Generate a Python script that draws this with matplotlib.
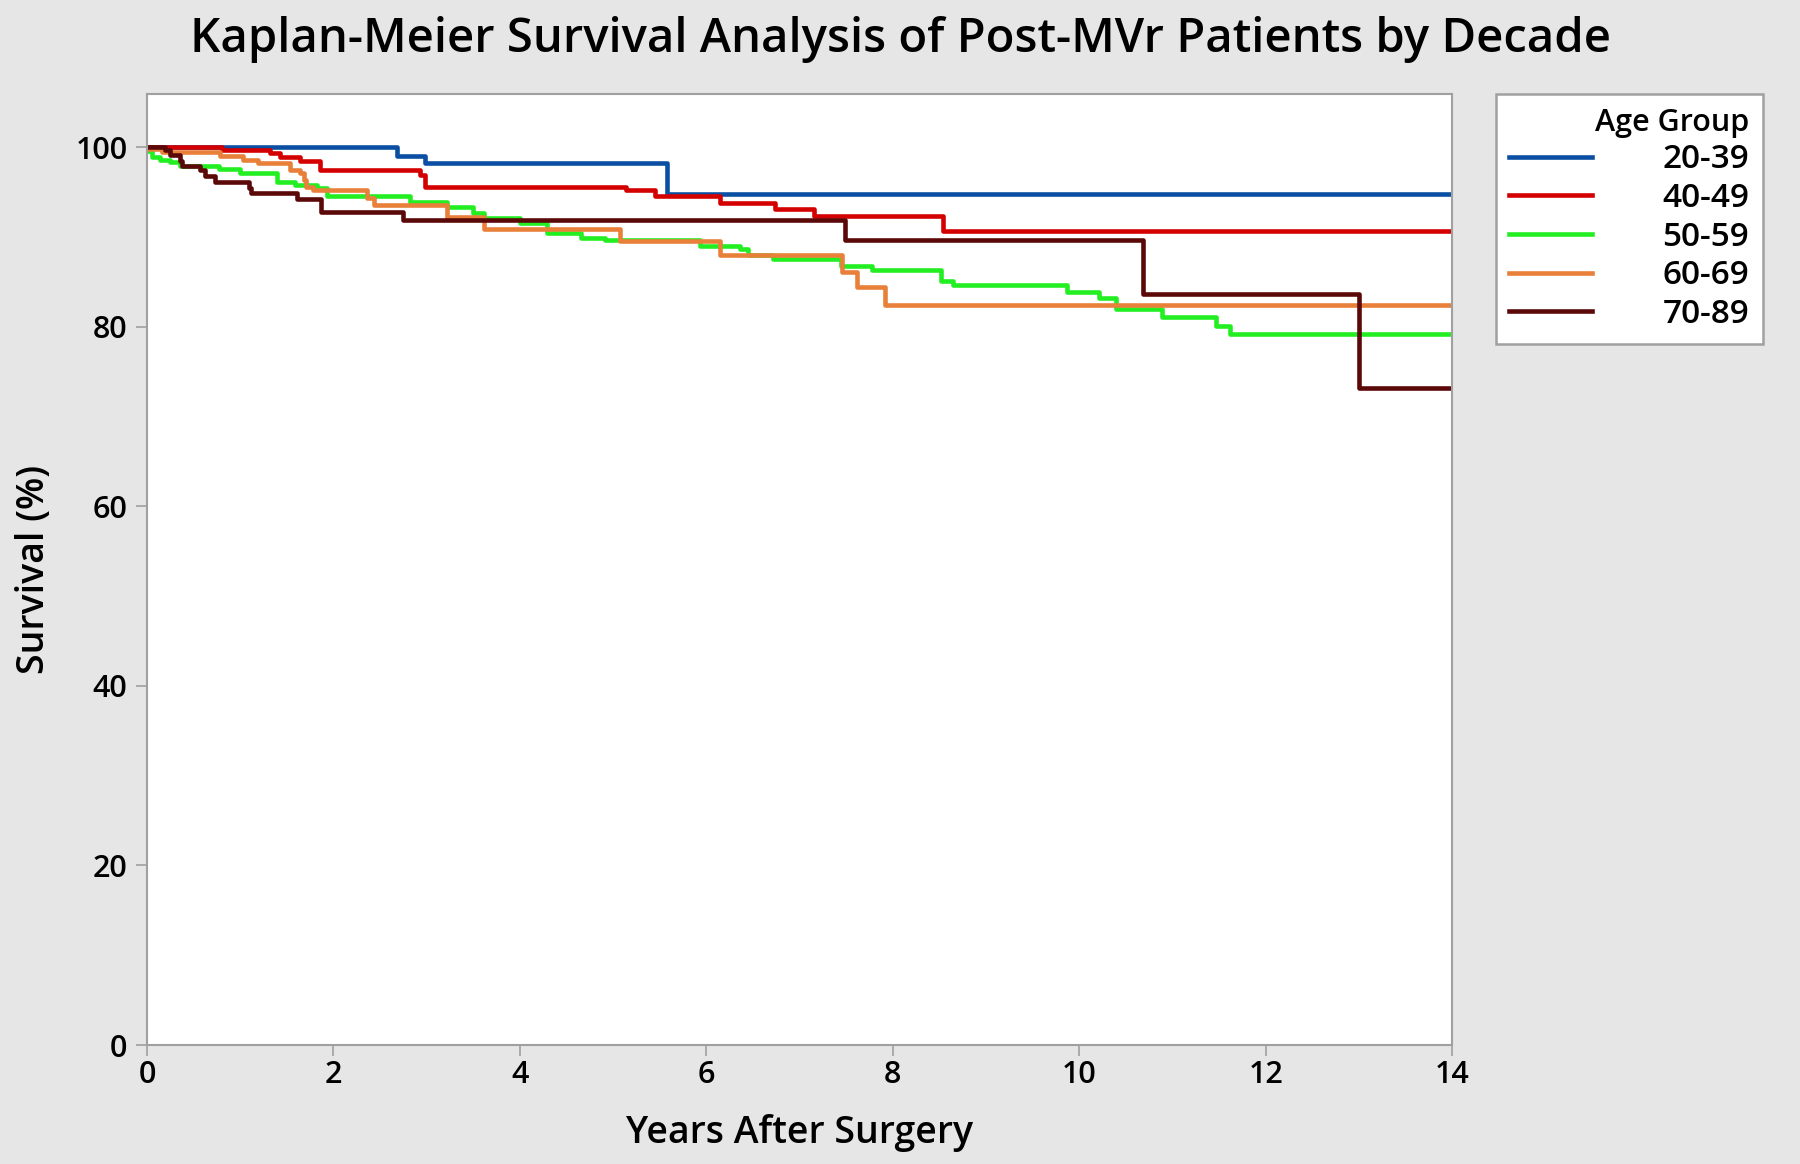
import numpy as np
import matplotlib
matplotlib.use('Agg')
import matplotlib.pyplot as plt

plt.rcParams['font.family'] = ['Open Sans', 'DejaVu Sans']
plt.rcParams['font.weight'] = 'semibold'

# ---------------data
groups = ['20-39', '40-49', '50-59', '60-69', '70-89']
colors = ['#0A4FA3', '#D40000', '#22EE22', '#E8803A', '#5A0808']

t_20_39 = [0, 2.68, 2.98, 5.58, 14]
s_20_39 = [100, 99.0, 98.2, 94.8, 94.8]

t_40_49 = [0, 0.80, 1.32, 1.43, 1.64, 1.86, 2.93, 2.98, 5.14, 5.45, 6.15, 6.74, 7.15, 8.54, 14]
s_40_49 = [100, 99.7, 99.3, 98.9, 98.4, 97.4, 96.9, 95.6, 95.2, 94.5, 93.8, 93.1, 92.3, 90.7, 90.7]

t_50_59 = [0, 0.05, 0.14, 0.25, 0.35, 0.77, 1.00, 1.39, 1.59, 1.82, 1.93, 2.82, 3.22, 3.50,
           3.61, 4.00, 4.29, 4.66, 4.91, 5.93, 6.36, 6.45, 6.72, 7.44, 7.78, 8.52, 8.65,
           9.87, 10.21, 10.40, 10.89, 11.47, 11.62, 14]
s_50_59 = [99.6, 98.9, 98.6, 98.3, 97.9, 97.5, 97.1, 96.1, 95.8, 95.4, 94.5, 93.9, 93.3, 92.6,
           92.1, 91.5, 90.4, 89.9, 89.6, 89.0, 88.6, 88.0, 87.5, 86.7, 86.3, 85.1, 84.6,
           83.9, 83.2, 82.0, 81.1, 80.1, 79.2, 79.2]

t_60_69 = [0, 0.16, 0.78, 1.03, 1.19, 1.53, 1.64, 1.68, 1.71, 1.78, 2.36, 2.43, 3.22, 3.61,
           5.07, 6.15, 7.45, 7.62, 7.92, 14]
s_60_69 = [99.8, 99.4, 99.0, 98.6, 98.2, 97.4, 97.1, 96.3, 95.6, 95.2, 94.3, 93.5, 92.2, 90.9,
           89.5, 88.0, 86.1, 84.4, 82.4, 82.4]

t_70_89 = [0, 0.19, 0.25, 0.35, 0.37, 0.57, 0.62, 0.73, 1.09, 1.12, 1.61, 1.87, 2.75, 7.49,
           10.68, 13.0, 14]
s_70_89 = [100, 99.7, 99.1, 98.4, 97.9, 97.4, 96.8, 96.1, 95.4, 94.9, 94.2, 92.8, 91.9, 89.7,
           83.6, 73.2, 73.2]

times = [t_20_39, t_40_49, t_50_59, t_60_69, t_70_89]
surv = [s_20_39, s_40_49, s_50_59, s_60_69, s_70_89]

# ---------------plot
bg = '#E6E6E6'
spine_c = '#A0A0A0'
fig = plt.figure(figsize=(18, 11.64), dpi=100, facecolor=bg)
ax = fig.add_axes([0.0817, 0.1022, 0.725, 0.817])
ax.set_facecolor('white')

for t, s, c, g in zip(times, surv, colors, groups):
    ax.step(t, s, where='post', color=c, lw=3.3, label=g)

ax.set_xlim(0, 14)
ax.set_ylim(0, 105.9)
ax.set_xticks(np.arange(0, 15, 2))
ax.set_yticks(np.arange(0, 101, 20))
ax.tick_params(axis='both', direction='out', length=8, width=1.2, color=spine_c,
               labelsize=22, labelcolor='black')
ax.tick_params(axis='y', pad=6)
ax.tick_params(axis='x', pad=3)
for sp in ax.spines.values():
    sp.set_color(spine_c)
    sp.set_linewidth(1.5)

ax.set_xlabel('Years After Surgery', fontsize=27, fontweight='semibold', labelpad=17)
ax.set_ylabel('Survival (%)', fontsize=27, fontweight='semibold', labelpad=16)
fig.suptitle('Kaplan-Meier Survival Analysis of Post-MVr Patients by Decade',
             fontsize=34, fontweight='semibold', y=0.966, va='center')

leg = ax.legend(loc='upper left', bbox_to_anchor=(0.831, 0.919),
                bbox_transform=fig.transFigure, title='Age Group', alignment='right',
                fontsize=24, title_fontsize=22, handlelength=2.5, handletextpad=2.1,
                labelspacing=0.17, fancybox=False, framealpha=1, borderpad=0.4,
                borderaxespad=0)
leg.get_frame().set_edgecolor(spine_c)
leg.get_frame().set_linewidth(1.8)

fig.savefig('out.png', dpi=100, facecolor=bg)
